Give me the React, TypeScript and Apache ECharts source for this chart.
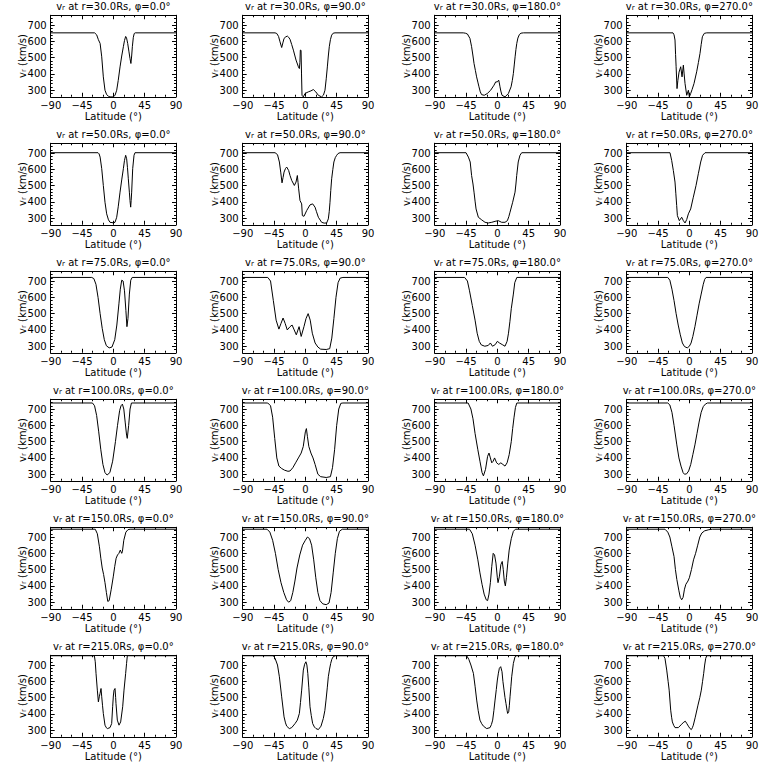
import React, { useEffect, useRef } from 'react';
import * as echarts from 'echarts';

const radii = ['30.0', '50.0', '75.0', '100.0', '150.0', '215.0'];
const phis = ['0.0', '90.0', '180.0', '270.0'];
const yTicks = [300, 400, 500, 600, 700];
const xName = 'Latitude (°)';

// r = 30 Rs
const r30_p0 = [[-90,652],[-27,652],[-24,640],[-21.5,610],[-19,587],[-16.7,505],[-14.4,382],[-12,300],[-9.6,273],[-7,263],[-4.8,259],[0,259],[2.5,270],[4.8,300],[7,360],[9.6,443],[12,510],[14.4,567],[16,605],[17.7,630],[19,620],[20.6,587],[22.3,540],[23.9,495],[25.2,464],[26.3,510],[27.3,567],[28.7,625],[30,648],[31.5,652],[90,652]];
const r30_p90 = [[-90,652],[-43.5,652],[-41,648],[-38.5,630],[-36.4,597],[-34,562],[-32,595],[-30.6,618],[-28,628],[-25.8,632],[-24,625],[-22,612],[-19.6,580],[-17.2,546],[-13.4,485],[-10,444],[-8.6,433],[-7.8,470],[-7.2,546],[-6.2,545],[-5.5,400],[-4.8,269],[-2.9,259],[-0.5,280],[4.3,290],[8,296],[11.5,304],[15,290],[18.7,269],[23.4,259],[26,270],[28.2,300],[30,370],[31.6,443],[33,510],[34.4,567],[36,610],[37.8,638],[40,650],[42.6,652],[90,652]];
const r30_p180 = [[-90,652],[-49,652],[-46,650],[-43,645],[-39.4,618],[-37,567],[-35,510],[-33.5,464],[-31.5,420],[-29.8,382],[-28,350],[-26.4,321],[-24.5,290],[-22.6,273],[-18.8,269],[-14.4,280],[-9.6,300],[-6.5,320],[-4.8,331],[-2.4,351],[0,351],[1.9,362],[2.8,345],[3.8,321],[5,295],[6.7,269],[11,259],[15.9,280],[19.7,321],[21.5,360],[23,403],[24.3,455],[25.5,505],[26.7,550],[27.9,587],[29.5,620],[31.7,642],[34,650],[37.5,652],[90,652]];
const r30_p270 = [[-90,652],[-23.5,652],[-22,640],[-20.6,608],[-19.8,520],[-19,444],[-17.7,310],[-16.5,360],[-14.8,411],[-12.4,444],[-10.5,382],[-8.6,454],[-7.5,400],[-6.2,341],[-3.8,269],[-1.4,300],[0,259],[1.9,280],[4,305],[6.7,341],[10.5,413],[13,470],[15.3,526],[17,580],[18.7,628],[21.5,649],[25,652],[90,652]];

// r = 50 Rs
const r50_p0 = [[-90,702],[-22,702],[-20.5,695],[-19,675],[-16.7,604],[-14.4,501],[-12,398],[-9.6,327],[-7,290],[-4.8,275],[0,272],[2.4,275],[4.8,306],[7,370],[9.6,460],[12,535],[14.4,604],[16,655],[17.7,686],[19.1,665],[20.3,610],[21.5,542],[23,460],[23.9,409],[24.9,368],[25.6,410],[26.3,460],[27.8,604],[29.7,686],[31.1,702],[90,702]];
const r50_p90 = [[-90,702],[-43.5,702],[-40,690],[-37.3,645],[-35.4,583],[-33.5,517],[-32,550],[-30.6,583],[-28.5,605],[-26.8,614],[-24,593],[-22,562],[-19.6,532],[-15.8,501],[-13.4,522],[-11.5,562],[-10.5,520],[-9.6,480],[-7.7,409],[-5.3,388],[-4.3,316],[-1.9,312],[1.9,347],[6.7,382],[10.5,388],[13.9,368],[16,340],[18.7,306],[23.4,275],[27,270],[30.6,271],[33,296],[34.3,340],[35.4,398],[36.5,470],[37.8,542],[39.5,600],[41,645],[43,672],[45,686],[47,697],[49.8,702],[90,702]];
const r50_p180 = [[-90,702],[-45,702],[-41.6,675],[-39,645],[-37,562],[-35,510],[-33.5,460],[-32,405],[-30.6,357],[-27.3,306],[-22.5,290],[-17.7,275],[-13,271],[-8,275],[-3.3,281],[1.4,285],[6.2,275],[11,275],[14.4,285],[16.5,310],[18.2,337],[22,398],[25.4,460],[26.7,510],[27.8,562],[30,645],[32.5,686],[35,702],[90,702]];
const r50_p270 = [[-90,702],[-27.8,702],[-25.4,655],[-23,593],[-20.6,522],[-19.4,450],[-18.2,378],[-17.2,316],[-14.4,285],[-11,306],[-8.6,285],[-6.2,271],[-3.8,292],[-1.4,327],[1.9,357],[5.7,429],[9.6,501],[12.9,573],[16.3,645],[19,686],[22.5,702],[90,702]];

// r = 75 Rs
const r75_p0 = [[-90,722],[-31,722],[-28,715],[-25,680],[-22,600],[-19,500],[-16,410],[-13,340],[-10,303],[-6,290],[-2,295],[2,340],[5,430],[8,560],[10,650],[12,705],[14,700],[16,640],[18,520],[19.5,420],[21,470],[23,620],[25,705],[27,722],[90,722]];
const r75_p90 = [[-90,722],[-54,722],[-50,700],[-46,580],[-42,460],[-38,405],[-35,440],[-32,473],[-29,440],[-26,400],[-22,420],[-19,430],[-16,400],[-13,370],[-9,420],[-6,360],[-2,420],[1,470],[4,500],[7,460],[10,380],[14,320],[18,295],[22,282],[30,280],[35,285],[38,350],[41,470],[44,600],[47,690],[50,718],[54,722],[90,722]];
const r75_p180 = [[-90,722],[-47,722],[-43,700],[-40,640],[-36,550],[-32,460],[-29,380],[-26,330],[-23,308],[-18,300],[-13,305],[-10,320],[-7,300],[-3,310],[0,330],[3,320],[7,310],[11,300],[14,330],[16,380],[18,450],[20,530],[23,620],[25,690],[28,722],[90,722]];
const r75_p270 = [[-90,722],[-31,722],[-28,705],[-25,650],[-22,580],[-19,500],[-16,430],[-13,370],[-10,320],[-7,298],[-3,290],[0,300],[2.5,320],[5,360],[8,420],[11,490],[14,560],[17,620],[20,680],[22,710],[24,722],[90,722]];

// r = 100 Rs
const r100_p0 = [[-90,737],[-30,737],[-27,720],[-24,660],[-21,560],[-18,450],[-15,360],[-12,310],[-9,295],[-5,310],[-1,380],[3,500],[6,600],[9,690],[11,720],[13,730],[15,700],[17,620],[19,540],[20,520],[22,600],[24,700],[26,737],[90,737]];
const r100_p90 = [[-90,737],[-54,737],[-50,720],[-47,650],[-44,520],[-41,400],[-38,350],[-34,335],[-30,325],[-25,318],[-22,320],[-18,340],[-14,370],[-10,400],[-6,430],[-3,470],[0,560],[1.5,580],[3,530],[5,470],[8,430],[11,400],[14,360],[18,300],[22,285],[30,280],[36,285],[39,340],[42,450],[45,600],[48,700],[51,735],[54,737],[90,737]];
const r100_p180 = [[-90,737],[-42,737],[-38,700],[-35,640],[-32,550],[-28,450],[-25,380],[-22,310],[-20,290],[-17,330],[-14,410],[-12,430],[-10,400],[-8,370],[-6,380],[-4,400],[-1,370],[2,360],[5,370],[8,360],[11,350],[14,370],[17,420],[20,500],[22,580],[24,650],[26,710],[28,737],[90,737]];
const r100_p270 = [[-90,737],[-31,737],[-28,725],[-25,680],[-22,600],[-18,480],[-15,400],[-12,350],[-9,310],[-7,300],[-4,302],[-1,320],[2,360],[5,420],[8,480],[11,550],[14,620],[17,680],[20,715],[23,730],[26,737],[90,737]];

// r = 150 Rs
const r150_p0 = [[-90,748],[-26,748],[-23,720],[-20,640],[-18,570],[-16,510],[-14,470],[-12,420],[-10,360],[-8,305],[-6,310],[-3,380],[0,460],[2,520],[4,570],[6,590],[8,600],[10,620],[12,600],[13,610],[15,680],[18,730],[21,745],[24,748],[90,748]];
const r150_p90 = [[-90,748],[-55,748],[-51,730],[-47,680],[-43,600],[-39,500],[-35,420],[-31,360],[-27,315],[-24,300],[-21,310],[-18,360],[-15,430],[-12,510],[-8,590],[-4,650],[0,680],[3,700],[6,690],[9,650],[12,560],[15,450],[18,360],[21,310],[25,290],[30,285],[34,295],[37,360],[40,480],[43,600],[46,690],[49,735],[53,748],[90,748]];
const r150_p180 = [[-90,748],[-40,748],[-36,720],[-32,650],[-28,560],[-25,480],[-22,410],[-19,350],[-16,315],[-14,310],[-12,350],[-10,420],[-8,520],[-6,600],[-4,590],[-2,540],[0,450],[1,420],[3,460],[5,530],[7,550],[8.5,500],[10,430],[11.5,400],[13,450],[15,540],[17,620],[20,690],[23,735],[26,748],[90,748]];
const r150_p270 = [[-90,748],[-35,748],[-31,730],[-28,700],[-25,640],[-22,580],[-20,500],[-18,440],[-15,370],[-13,330],[-11,315],[-9,330],[-7,380],[-5,410],[-2,430],[0,450],[3,500],[6,560],[9,600],[12,650],[15,700],[18,725],[22,738],[28,745],[33,748],[90,748]];

// r = 215 Rs
const r215_p0 = [[-90,757],[-27.3,757],[-26,720],[-24.9,649],[-23,546],[-21.5,474],[-20.2,505],[-19.1,526],[-17.7,556],[-16.7,505],[-15.5,450],[-14.4,403],[-12,331],[-10,315],[-8.6,310],[-4.8,316],[-2.4,341],[-1,444],[0,510],[1,546],[2.4,556],[3.3,500],[3.8,464],[5.7,362],[8.1,331],[10.5,351],[13.4,444],[15.3,546],[17.7,649],[19,710],[20.1,757],[90,757]];
const r215_p90 = [[-90,757],[-46,757],[-43.5,741],[-40,700],[-37.3,628],[-34,505],[-30.6,382],[-28.5,345],[-26.8,325],[-23,310],[-19.6,316],[-14.8,341],[-11.5,362],[-8.6,403],[-7,470],[-5.3,546],[-2.9,669],[-1,705],[0.8,720],[2.2,700],[3.5,649],[5,560],[6.7,444],[8.5,390],[10.5,341],[13,320],[15.3,310],[18.7,304],[22.5,325],[25.8,372],[28,420],[29.7,485],[31.5,560],[33,628],[34.8,675],[36.4,710],[38,735],[40,751],[43,757],[90,757]];
const r215_p180 = [[-90,757],[-44,757],[-41,735],[-38,700],[-34.4,649],[-32,570],[-29.7,485],[-27.5,420],[-25,362],[-22.5,340],[-20,325],[-15.3,310],[-10.5,316],[-8.5,335],[-6.7,362],[-5,420],[-3.3,485],[-1.5,550],[0,608],[1.5,650],[2.9,680],[4.8,690],[6.7,659],[8,600],[9.6,546],[11,500],[12.4,464],[14,420],[14.8,403],[16.3,413],[17.2,450],[18.2,505],[19.5,570],[20.6,628],[23,710],[25.4,751],[27.8,757],[90,757]];
const r215_p270 = [[-90,757],[-37,757],[-35,740],[-32.5,669],[-30.5,600],[-29,546],[-26.8,423],[-25.5,380],[-24.4,351],[-22.5,330],[-20.6,316],[-15.8,316],[-11,337],[-8,350],[-5.7,355],[-3.5,340],[-1.4,325],[1,310],[2.9,304],[4.3,315],[5.7,331],[8.5,380],[12.4,454],[15,500],[17.2,546],[19,600],[20.6,649],[22,700],[23.5,741],[25,757],[90,757]];

const panels = [
  [r30_p0, r30_p90, r30_p180, r30_p270],
  [r50_p0, r50_p90, r50_p180, r50_p270],
  [r75_p0, r75_p90, r75_p180, r75_p270],
  [r100_p0, r100_p90, r100_p180, r100_p270],
  [r150_p0, r150_p90, r150_p180, r150_p270],
  [r215_p0, r215_p90, r215_p180, r215_p270],
];

const FONT = 'DejaVu Sans';
const BLACK = '#000';
const PW = 125.3;
const PH = 81.5;

function buildOption() {
  const grid: any[] = [];
  const xAxis: any[] = [];
  const yAxis: any[] = [];
  const series: any[] = [];
  const graphic: any[] = [];
  const ts = { fontFamily: FONT, fontSize: 10, color: BLACK };
  const rich = { s: { fontFamily: FONT, fontSize: 7, color: BLACK, verticalAlign: 'bottom', padding: [3, 0, 0, 0] } };
  for (let r = 0; r < 6; r++) {
    for (let c = 0; c < 4; c++) {
      const g = r * 4 + c;
      const left = 50.7 + 192 * c;
      const top = 15.25 + 128 * r;
      grid.push({ left, top, width: PW, height: PH, outerBoundsMode: 'none', containLabel: false });
      const xBase = {
        gridIndex: g, type: 'value', min: -90, max: 90, interval: 45,
        axisLine: { show: true, onZero: false, lineStyle: { color: BLACK, width: 1 } },
        axisTick: { show: true, inside: true, length: 4, lineStyle: { color: BLACK, width: 1 } },
        minorTick: { show: true, splitNumber: 3, length: 2, lineStyle: { color: BLACK, width: 1 } },
        splitLine: { show: false }, minorSplitLine: { show: false },
      };
      xAxis.push({
        ...xBase, position: 'bottom',
        axisLabel: { ...ts, margin: 4, formatter: (v: number) => (v < 0 ? '\u2212' + -v : String(v)) },
        name: xName, nameLocation: 'middle', nameGap: 15, nameMoveOverlap: false,
        nameTextStyle: { ...ts },
      });
      xAxis.push({ ...xBase, position: 'top', axisLabel: { show: false } });
      const yMajor = {
        gridIndex: g, type: 'value', min: 260, max: 760,
        axisLine: { show: true, onZero: false, lineStyle: { color: BLACK, width: 1 } },
        axisTick: { show: true, inside: true, length: 4, customValues: yTicks, lineStyle: { color: BLACK, width: 1 } },
        splitLine: { show: false },
      };
      yAxis.push({
        ...yMajor, position: 'left',
        axisLabel: { ...ts, margin: 4, customValues: yTicks },
        name: 'v{s|r} (km/s)', nameLocation: 'middle', nameGap: 23, nameMoveOverlap: false,
        nameTextStyle: { ...ts, rich },
      });
      yAxis.push({ ...yMajor, position: 'right', axisLabel: { show: false } });
      const yMinor = {
        gridIndex: g, type: 'value', min: 260, max: 760, interval: 20,
        axisLine: { show: false, onZero: false },
        axisTick: { show: true, inside: true, length: 2, lineStyle: { color: BLACK, width: 1 } },
        axisLabel: { show: false }, splitLine: { show: false },
      };
      yAxis.push({ ...yMinor, position: 'left' });
      yAxis.push({ ...yMinor, position: 'right' });
      series.push({
        type: 'line', xAxisIndex: 2 * g, yAxisIndex: 4 * g, data: panels[r][c],
        showSymbol: false, symbol: 'none', clip: true, silent: true,
        lineStyle: { color: BLACK, width: 1 },
      });
      graphic.push({
        type: 'text', x: left + PW / 2, y: top - 14, silent: true,
        style: {
          text: 'v{s|r} at r=' + radii[r] + 'Rs, \u03c6=' + phis[c] + '\u00b0',
          fill: BLACK, fontFamily: FONT, fontSize: 10, align: 'center', verticalAlign: 'top',
          rich,
        },
      });
    }
  }
  return { animation: false, backgroundColor: '#fff', grid, xAxis, yAxis, series, graphic };
}

export default function App() {
  const ref = useRef<HTMLDivElement>(null);
  useEffect(() => {
    const chart = echarts.init(ref.current!, null, { renderer: 'svg' });
    chart.setOption(buildOption() as any);
    return () => chart.dispose();
  }, []);
  return (
    <div
      ref={ref}
      style={{ position: 'absolute', left: 0, top: 0, width: 768, height: 768, background: '#fff' }}
    />
  );
}
